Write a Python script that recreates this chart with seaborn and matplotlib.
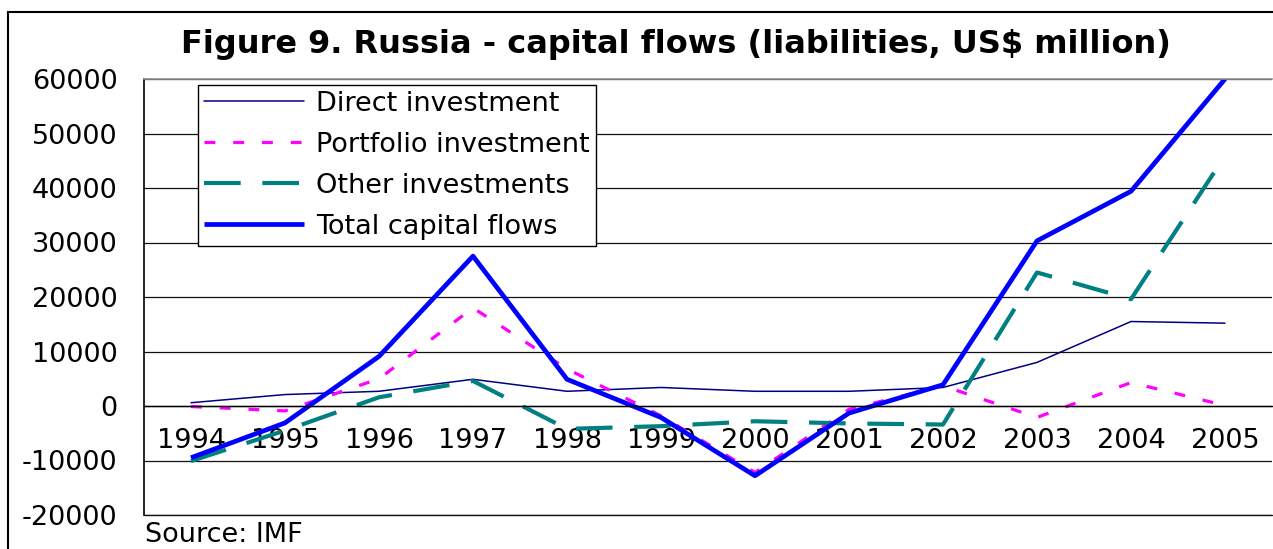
import numpy as np
import pandas as pd
import matplotlib
matplotlib.use("Agg")
import matplotlib.pyplot as plt
import matplotlib.patches as mpatches
import seaborn as sns

years = ["1994", "1995", "1996", "1997", "1998", "1999", "2000", "2001", "2002", "2003", "2004", "2005"]
direct = [600, 2100, 2700, 4900, 2700, 3400, 2700, 2700, 3400, 8000, 15500, 15200]
portfolio = [-100, -900, 5000, 18000, 6800, -1800, -12200, -600, 3700, -2100, 4300, 100]
other = [-10100, -4500, 1600, 4600, -4200, -3700, -2800, -3200, -3400, 24500, 19600, 45900]
total = [-9500, -3100, 9100, 27500, 4900, -2100, -12800, -1300, 3900, 30300, 39400, 60000]

series_names = ["Direct investment", "Portfolio investment", "Other investments", "Total capital flows"]
y_ticks = [-20000, -10000, 0, 10000, 20000, 30000, 40000, 50000, 60000]
title = "Figure 9. Russia - capital flows (liabilities, US$ million)"
source = "Source: IMF"

sns.set_style("white")
plt.rcParams["font.family"] = ["DejaVu Sans"]
plt.rcParams["text.color"] = "black"
plt.rcParams["xtick.color"] = "black"
plt.rcParams["ytick.color"] = "black"
plt.rcParams["xtick.labelcolor"] = "black"
plt.rcParams["ytick.labelcolor"] = "black"

W, H = 1273, 549
fs = 19.5
fig = plt.figure(figsize=(W / 100, H / 100), dpi=100)
ax = fig.add_axes([144 / W, 1 - 515 / H, 1128 / W, (515 - 79) / H])

styles = [
    dict(color="#000080", lw=1.1, linestyle="-"),
    dict(color="#FF00FF", lw=2.3, linestyle=(0, (3.4, 5.6))),
    dict(color="#008080", lw=3.0, linestyle=(0, (8.8, 5.2))),
    dict(color="#0000FF", lw=3.4, linestyle="-", solid_capstyle="butt"),
]
for name, vals, st in zip(series_names, [direct, portfolio, other, total], styles):
    sns.lineplot(x=years, y=vals, ax=ax, label=name, sort=False, estimator=None, **st)

ax.set_xlim(-0.5, len(years) - 0.5)
ax.set_ylim(-20000, 60000)
ax.set_yticks(y_ticks)
ax.set_yticklabels([str(v) for v in y_ticks])
ax.yaxis.grid(True, color="#111111", lw=0.9)
ax.xaxis.grid(False)
ax.set_axisbelow(True)
ax.axhline(-20000, color="#111111", lw=1.0, clip_on=False, zorder=0.5)

ax.spines["bottom"].set_position(("data", 0))
ax.spines["bottom"].set_color("black")
ax.spines["bottom"].set_linewidth(1.0)
ax.spines["left"].set_color("black")
ax.spines["left"].set_linewidth(1.2)
ax.spines["top"].set_color("#909090")
ax.spines["top"].set_linewidth(1.2)
ax.spines["right"].set_visible(False)

ax.set_xticks(range(len(years)))
ax.set_xticklabels(years)
ax.set_xticks(np.arange(-0.5, len(years), 1.0), minor=True)
ax.tick_params(axis="x", which="major", length=0, pad=16, labelsize=fs, colors="black")
ax.tick_params(axis="x", which="minor", length=5.5, width=1.0, direction="out", color="black")
ax.tick_params(axis="y", which="major", length=8, width=1.0, direction="out", pad=11, labelsize=fs, color="black")
ax.set_xlabel("")
ax.set_ylabel("")

leg = ax.legend(loc="upper left", bbox_to_anchor=(198 / W, 1 - 85 / H), bbox_transform=fig.transFigure,
                frameon=True, fancybox=False, shadow=False, fontsize=fs, handlelength=3.7,
                handletextpad=0.45, labelspacing=0.55, borderpad=0.22, borderaxespad=0)
leg.get_frame().set_edgecolor("black")
leg.get_frame().set_linewidth(1.0)
leg.get_frame().set_facecolor("white")
leg.get_frame().set_alpha(1)
for t in leg.get_texts():
    t.set_color("black")

fig.text(676 / W, 1 - 45 / H, title, ha="center", va="center", fontsize=23, fontweight="bold", color="black")
fig.text(145 / W, 1 - 535 / H, source, ha="left", va="center", fontsize=fs, color="black")

border = mpatches.Rectangle((8 / W, -0.1), 1.2, 1.1 - 12.5 / H, transform=fig.transFigure,
                            fill=False, lw=1.5, ec="black")
fig.add_artist(border)

fig.savefig("out.png", dpi=100)
